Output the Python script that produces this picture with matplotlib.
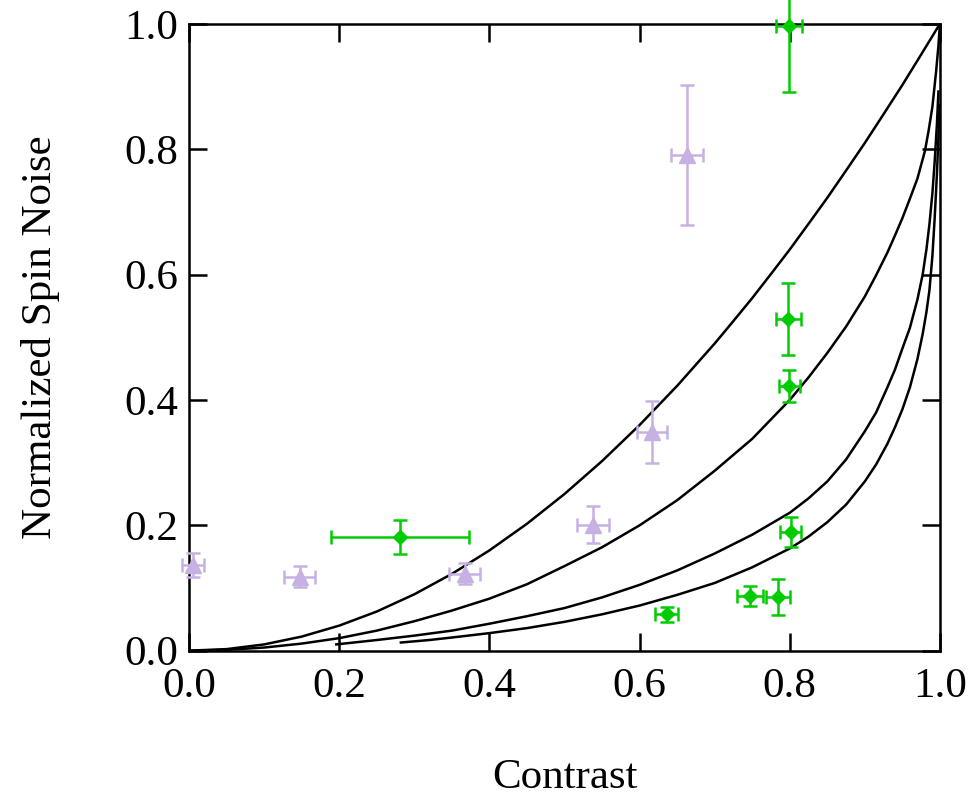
import matplotlib
matplotlib.use("Agg")
import matplotlib.pyplot as plt

plt.rcParams['font.family'] = ['Liberation Serif', 'DejaVu Serif']

# model curves
c1_x = [0.0, 0.05, 0.1, 0.15, 0.2, 0.25, 0.3, 0.35, 0.4, 0.45, 0.5, 0.55, 0.6,
        0.65, 0.7, 0.725, 0.75, 0.775, 0.8, 0.825, 0.85, 0.875, 0.9, 0.925, 0.95,
        0.975, 1.0]
c1_y = [0.0, 0.0025, 0.01, 0.0225, 0.04, 0.0625, 0.09, 0.1225, 0.16, 0.2025, 0.25,
        0.3025, 0.36, 0.4225, 0.49, 0.526, 0.5625, 0.601, 0.64, 0.681, 0.7225,
        0.766, 0.81, 0.856, 0.9025, 0.951, 1.0]

c2_x = [0.0, 0.05, 0.1, 0.15, 0.2, 0.25, 0.3, 0.35, 0.4, 0.45, 0.5, 0.55, 0.6, 0.65,
        0.7, 0.75, 0.8, 0.825, 0.85, 0.875, 0.9, 0.915, 0.93, 0.94, 0.95, 0.96,
        0.97, 0.98, 0.985, 0.99, 0.995, 0.998, 1.0]
c2_y = [0.0, 0.0013, 0.005, 0.0113, 0.020, 0.032, 0.047, 0.064, 0.083, 0.106, 0.135,
        0.165, 0.200, 0.240, 0.287, 0.338, 0.400, 0.436, 0.475, 0.517, 0.565, 0.599,
        0.635, 0.662, 0.690, 0.721, 0.753, 0.797, 0.830, 0.868, 0.925, 0.965, 1.0]

c3_x = [0.196, 0.25, 0.3, 0.35, 0.4, 0.45, 0.5, 0.55, 0.6, 0.65, 0.7, 0.75, 0.8,
        0.825, 0.85, 0.875, 0.9, 0.915, 0.93, 0.94, 0.95, 0.96, 0.97, 0.977, 0.982,
        0.986, 0.99, 0.993, 0.996, 0.998]
c3_y = [0.010, 0.017, 0.024, 0.032, 0.043, 0.055, 0.068, 0.085, 0.105, 0.128, 0.155,
        0.185, 0.220, 0.243, 0.270, 0.305, 0.350, 0.380, 0.420, 0.448, 0.482, 0.515,
        0.560, 0.600, 0.640, 0.680, 0.730, 0.780, 0.840, 0.892]

c4_x = [0.282, 0.32, 0.35, 0.4, 0.45, 0.5, 0.55, 0.6, 0.65, 0.7, 0.75, 0.8, 0.825,
        0.85, 0.875, 0.9, 0.915, 0.93, 0.94, 0.95, 0.96, 0.97, 0.977, 0.982, 0.986,
        0.99, 0.993, 0.996, 0.998, 0.9995]
c4_y = [0.013, 0.017, 0.021, 0.028, 0.036, 0.046, 0.058, 0.072, 0.089, 0.108, 0.133,
        0.163, 0.182, 0.205, 0.233, 0.270, 0.297, 0.330, 0.356, 0.385, 0.420, 0.465,
        0.505, 0.540, 0.575, 0.630, 0.690, 0.760, 0.820, 0.870]

# purple triangles
tri_x = [0.005, 0.147, 0.367, 0.538, 0.616, 0.663]
tri_y = [0.137, 0.118, 0.123, 0.201, 0.349, 0.791]
tri_xerr = [0.015, 0.021, 0.021, 0.021, 0.020, 0.021]
tri_yerr = [0.019, 0.017, 0.017, 0.029, 0.050, 0.112]

# green diamonds
dia_x = [0.281, 0.636, 0.747, 0.784, 0.801, 0.799, 0.798, 0.799]
dia_y = [0.181, 0.058, 0.087, 0.086, 0.190, 0.422, 0.529, 0.996]
dia_xerr = [0.092, 0.015, 0.017, 0.016, 0.0135, 0.014, 0.017, 0.017]
dia_yerr = [0.027, 0.012, 0.0155, 0.029, 0.024, 0.025, 0.058, 0.104]

fig = plt.figure(figsize=(9.72, 7.97), dpi=100)
ax = fig.add_axes([0.1946, 0.1836, 0.7724, 0.7865])

for cx, cy in [(c1_x, c1_y), (c2_x, c2_y), (c3_x, c3_y), (c4_x, c4_y)]:
    ax.plot(cx, cy, color='black', lw=1.8, zorder=2)

purple = '#c6b1e2'
green = '#00cc00'

eb = ax.errorbar(tri_x, tri_y, xerr=tri_xerr, yerr=tri_yerr, fmt='^', color=purple,
                 ms=11, elinewidth=1.8, capsize=5, capthick=1.8, zorder=3)
for art in [eb[0], *eb[1], *eb[2]]:
    art.set_clip_on(False)

eb = ax.errorbar(dia_x, dia_y, xerr=dia_xerr, yerr=dia_yerr, fmt='D', color=green,
                 ms=7.5, elinewidth=1.8, capsize=5, capthick=1.8, zorder=3)
for art in [eb[0], *eb[1], *eb[2]]:
    art.set_clip_on(False)

ax.set_xlim(0, 1)
ax.set_ylim(0, 1)
ax.set_xticks([0.0, 0.2, 0.4, 0.6, 0.8, 1.0])
ax.set_yticks([0.0, 0.2, 0.4, 0.6, 0.8, 1.0])
ax.set_xticklabels(['0.0', '0.2', '0.4', '0.6', '0.8', '1.0'])
ax.set_yticklabels(['0.0', '0.2', '0.4', '0.6', '0.8', '1.0'])

ax.tick_params(direction='in', length=13, width=1.8, top=True, right=True,
               labelsize=31, colors='black')
ax.tick_params(axis='x', pad=12)
ax.tick_params(axis='y', pad=8)
for sp in ax.spines.values():
    sp.set_linewidth(1.8)

ax.set_xlabel('Contrast', fontsize=31, labelpad=38)
ax.set_ylabel('Normalized Spin Noise', fontsize=31, labelpad=46)

fig.savefig('out.png', dpi=100)
